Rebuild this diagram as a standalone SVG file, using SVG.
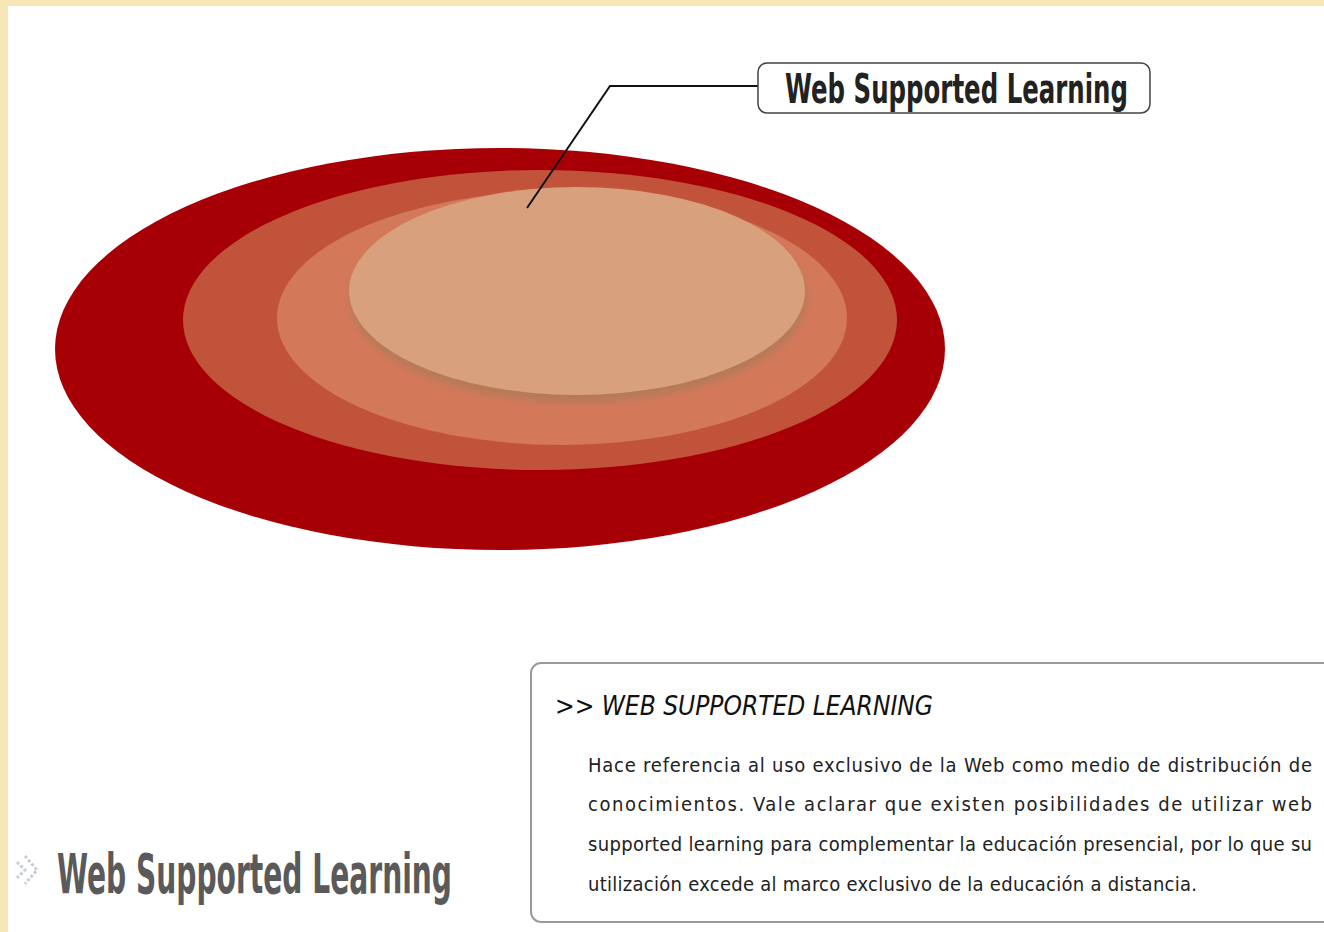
<svg xmlns="http://www.w3.org/2000/svg" width="1324" height="932" viewBox="0 0 1324 932">
<defs>
<style>
.cond{font-family:"Liberation Sans Narrow","DejaVu Sans Condensed","Liberation Sans",sans-serif;}
.title{font-weight:bold;font-size:40px;fill:#222;}
.bigtitle{font-weight:bold;font-size:56px;fill:#5a5a5a;}
.head{font-style:italic;font-size:26px;fill:#111;}
.body{font-size:20px;fill:#222;}
.lead{fill:none;stroke:#111;stroke-width:2;}
</style>
<filter id="blur" x="-10%" y="-10%" width="120%" height="130%"><feGaussianBlur stdDeviation="4"/></filter>
</defs>
<rect x="0" y="0" width="1324" height="932" fill="#f7e6b6"/>
<rect x="8" y="6" width="1316" height="926" fill="#ffffff"/>
<g id="rings">
<ellipse cx="500" cy="349" rx="445" ry="201" fill="#a60006"/>
<ellipse cx="540" cy="320" rx="357" ry="150" fill="#c2533b"/>
<ellipse cx="562" cy="318" rx="285" ry="127" fill="#d4785a"/>
<ellipse cx="578" cy="298" rx="228" ry="104" fill="#b27a58" filter="url(#blur)"/>
<ellipse cx="577" cy="291" rx="228" ry="104" fill="#d9a07e"/>
</g>
<g id="connectors">
<polyline class="lead" points="527,208 610,86 760,86"/>
</g>
<g id="label">
<rect x="758" y="63" width="392" height="50" rx="9" fill="#fff" stroke="#444" stroke-width="1.5"/>
<text class="cond title" x="785" y="103" textLength="343" lengthAdjust="spacingAndGlyphs">Web Supported Learning</text>
</g>
<g id="side-title">
<path d="M17,862 l8,8 l-8,8 M25,856 l12,14 l-12,14" fill="none" stroke="#c8ced6" stroke-width="3" stroke-dasharray="3,2"/>
<text class="cond bigtitle" x="57" y="893" textLength="395" lengthAdjust="spacingAndGlyphs">Web Supported Learning</text>
</g>
<g id="info">
<rect x="531" y="663" width="810" height="259" rx="10" fill="#fff" stroke="#9a9a9a" stroke-width="2"/>
<text class="cond head" x="555" y="715" textLength="378" lengthAdjust="spacingAndGlyphs">&gt;&gt; WEB SUPPORTED LEARNING</text>
<text class="cond body" x="588" y="772" textLength="724" lengthAdjust="spacing">Hace referencia al uso exclusivo de la Web como medio de distribución de</text>
<text class="cond body" x="588" y="811" textLength="724" lengthAdjust="spacing">conocimientos.  Vale aclarar que existen posibilidades de utilizar web</text>
<text class="cond body" x="588" y="851" textLength="724" lengthAdjust="spacing">supported learning para complementar la educación presencial, por lo que su</text>
<text class="cond body" x="588" y="891" textLength="609" lengthAdjust="spacing">utilización excede al marco exclusivo de la educación a distancia.</text>
</g>
</svg>
